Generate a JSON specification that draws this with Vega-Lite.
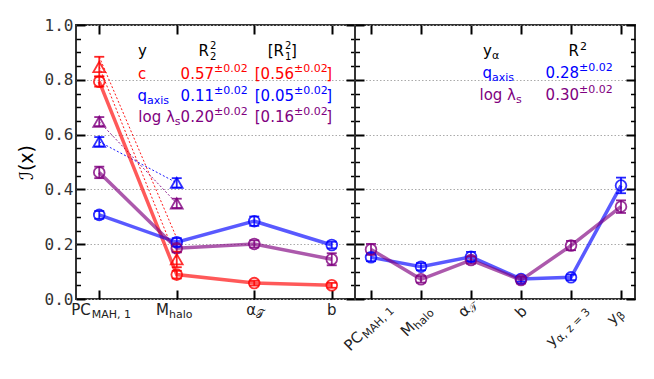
{
"$schema":"https://vega.github.io/schema/vega-lite/v6.json",
"padding":{"left":16,"top":16,"right":5,"bottom":5},
"config":{"font":"DejaVu Sans","view":{"stroke":"#333","strokeWidth":2},"text":{"font":"DejaVu Sans"}},
"datasets":{
"left":[
{"var":"PC","s":"c","m":"o","i":0,"v":0.793,"lo":0.775,"hi":0.812},
{"var":"Mhalo","s":"c","m":"o","i":1,"v":0.089,"lo":0.075,"hi":0.103},
{"var":"alpha","s":"c","m":"o","i":2,"v":0.058,"lo":0.049,"hi":0.067},
{"var":"b","s":"c","m":"o","i":3,"v":0.050,"lo":0.041,"hi":0.059},
{"var":"PC","s":"q","m":"o","i":0,"v":0.307,"lo":0.293,"hi":0.321},
{"var":"Mhalo","s":"q","m":"o","i":1,"v":0.207,"lo":0.192,"hi":0.222},
{"var":"alpha","s":"q","m":"o","i":2,"v":0.284,"lo":0.267,"hi":0.301},
{"var":"b","s":"q","m":"o","i":3,"v":0.197,"lo":0.185,"hi":0.209},
{"var":"PC","s":"l","m":"o","i":0,"v":0.462,"lo":0.441,"hi":0.483},
{"var":"Mhalo","s":"l","m":"o","i":1,"v":0.185,"lo":0.170,"hi":0.200},
{"var":"alpha","s":"l","m":"o","i":2,"v":0.201,"lo":0.188,"hi":0.214},
{"var":"b","s":"l","m":"o","i":3,"v":0.145,"lo":0.123,"hi":0.167},
{"var":"PC","s":"c","m":"t","i":0,"v":0.847,"lo":0.812,"hi":0.884},
{"var":"Mhalo","s":"c","m":"t","i":1,"v":0.145,"lo":0.116,"hi":0.173},
{"var":"PC","s":"q","m":"t","i":0,"v":0.574,"lo":0.557,"hi":0.591},
{"var":"Mhalo","s":"q","m":"t","i":1,"v":0.424,"lo":0.407,"hi":0.441},
{"var":"PC","s":"l","m":"t","i":0,"v":0.647,"lo":0.631,"hi":0.664},
{"var":"Mhalo","s":"l","m":"t","i":1,"v":0.349,"lo":0.332,"hi":0.366}
],
"right":[
{"var":"PC","s":"q","m":"o","i":0,"v":0.152,"lo":0.138,"hi":0.167},
{"var":"Mhalo","s":"q","m":"o","i":1,"v":0.118,"lo":0.105,"hi":0.131},
{"var":"alpha","s":"q","m":"o","i":2,"v":0.154,"lo":0.137,"hi":0.172},
{"var":"b","s":"q","m":"o","i":3,"v":0.073,"lo":0.063,"hi":0.083},
{"var":"y_alpha_z3","s":"q","m":"o","i":4,"v":0.079,"lo":0.069,"hi":0.089},
{"var":"y_beta","s":"q","m":"o","i":5,"v":0.414,"lo":0.386,"hi":0.443},
{"var":"PC","s":"l","m":"o","i":0,"v":0.181,"lo":0.161,"hi":0.201},
{"var":"Mhalo","s":"l","m":"o","i":1,"v":0.072,"lo":0.060,"hi":0.084},
{"var":"alpha","s":"l","m":"o","i":2,"v":0.142,"lo":0.129,"hi":0.155},
{"var":"b","s":"l","m":"o","i":3,"v":0.069,"lo":0.057,"hi":0.081},
{"var":"y_alpha_z3","s":"l","m":"o","i":4,"v":0.195,"lo":0.178,"hi":0.212},
{"var":"y_beta","s":"l","m":"o","i":5,"v":0.337,"lo":0.314,"hi":0.360}
]
},
"spacing":0,
"bounds":"flush",
"hconcat":[
{
"width":279,"height":274,
"data":{"name":"left"},
"resolve":{"axis":{"x":"independent","y":"independent"}},
"layer":[
{"transform":[{"filter":"datum.m=='t'"}],"mark":{"type":"line","strokeWidth":1,"strokeDash":[2,2],"opacity":0.9},
"encoding":{
"x":{"field":"i","type":"quantitative","scale":{"domain":[-0.3,3.3],"nice":false,"zero":false},"axis":{"orient":"bottom","values":[0,1,2,3],"labels":false,"tickSize":-9,"tickWidth":2,"tickColor":"#000","domain":false,"grid":false,"title":null}},
"y":{"field":"v","type":"quantitative","scale":{"domain":[0,1],"nice":false,"zero":false},"axis":{"orient":"left","values":[0,0.2,0.4,0.6,0.8,1],"format":".1f","labelFont":"DejaVu Sans Mono","labelFontSize":16,"labelColor":"#333","labelPadding":12,"tickSize":-9,"tickWidth":2,"tickColor":"#000","domain":false,"grid":true,"gridDash":[1.5,2],"gridColor":"#aaa","gridWidth":1,"title":"ℐ(x)","titleFont":"DejaVu Sans","titleFontSize":19,"titleFontWeight":"normal","titleColor":"#000","titlePadding":8}},
"color":{"field":"s","type":"nominal","scale":{"domain":["c","q","l"],"range":["#ff0000","#0000ff","#800080"]},"legend":null}}},
{"data":{"values":[{"s":"c","i":0,"v":0.884},{"s":"c","i":1,"v":0.222}]},"mark":{"type":"line","strokeWidth":1,"strokeDash":[2,2],"opacity":0.9,"color":"#ff0000"},
"encoding":{"x":{"field":"i","type":"quantitative","axis":null},"y":{"field":"v","type":"quantitative","axis":null}}},
{"transform":[{"filter":"datum.m=='o'"}],"mark":{"type":"line","strokeWidth":3.5,"opacity":0.65},
"encoding":{
"x":{"field":"i","type":"quantitative","scale":{"domain":[-0.3,3.3],"nice":false,"zero":false},"axis":{"orient":"top","values":[0,1,2,3],"labels":false,"tickSize":-9,"tickWidth":2,"tickColor":"#000","domain":false,"grid":false,"title":null}},
"y":{"field":"v","type":"quantitative","scale":{"domain":[0,1],"nice":false,"zero":false},"axis":{"orient":"right","values":[0,0.2,0.4,0.6,0.8,1],"labels":false,"tickSize":-9,"tickWidth":2,"tickColor":"#000","domain":false,"grid":false,"title":null}},
"color":{"field":"s","type":"nominal","legend":null}}},
{"mark":{"type":"rule","strokeWidth":1.8,"opacity":0.85},
"encoding":{
"x":{"field":"i","type":"quantitative","axis":null},
"y":{"field":"lo","type":"quantitative","scale":{"domain":[0,1],"nice":false,"zero":false},"axis":{"orient":"left","values":[0.05,0.1,0.15,0.25,0.3,0.35,0.45,0.5,0.55,0.65,0.7,0.75,0.85,0.9,0.95],"labels":false,"tickSize":-4.5,"tickWidth":1.5,"tickColor":"#000","domain":false,"grid":false,"title":null}},
"y2":{"field":"hi"},
"color":{"field":"s","type":"nominal","legend":null}}},
{"mark":{"type":"tick","orient":"horizontal","size":10,"thickness":1.8,"opacity":0.85},
"encoding":{
"x":{"field":"i","type":"quantitative","axis":null},
"y":{"field":"lo","type":"quantitative","axis":{"orient":"right","values":[0.05,0.1,0.15,0.25,0.3,0.35,0.45,0.5,0.55,0.65,0.7,0.75,0.85,0.9,0.95],"labels":false,"tickSize":-4.5,"tickWidth":1.5,"tickColor":"#000","domain":false,"grid":false,"title":null}},
"color":{"field":"s","type":"nominal","legend":null}}},
{"mark":{"type":"tick","orient":"horizontal","size":10,"thickness":1.8,"opacity":0.85},
"encoding":{
"x":{"field":"i","type":"quantitative","axis":null},
"y":{"field":"hi","type":"quantitative","axis":null},
"color":{"field":"s","type":"nominal","legend":null}}},
{"transform":[{"filter":"datum.m=='o'"}],"mark":{"type":"point","shape":"circle","filled":false,"size":115,"strokeWidth":1.8,"opacity":0.8},
"encoding":{"x":{"field":"i","type":"quantitative","axis":null},"y":{"field":"v","type":"quantitative","axis":null},"color":{"field":"s","type":"nominal","legend":null}}},
{"transform":[{"filter":"datum.m=='t'"}],"mark":{"type":"point","shape":"triangle-up","filled":false,"size":140,"strokeWidth":1.8,"opacity":0.8},
"encoding":{"x":{"field":"i","type":"quantitative","axis":null},"y":{"field":"v","type":"quantitative","axis":null},"color":{"field":"s","type":"nominal","legend":null}}},

{"data":{"values":[{"t":"y"}]},"mark":{"type":"text","align":"left","baseline":"alphabetic","fontSize":15,"color":"#000"},"encoding":{"x":{"datum":0.5,"axis":null},"y":{"datum":0.887,"axis":null},"text":{"field":"t"}}},
{"data":{"values":[{"t":"R"}]},"mark":{"type":"text","align":"right","baseline":"alphabetic","fontSize":15,"color":"#000"},"encoding":{"x":{"datum":1.416,"axis":null},"y":{"datum":0.887,"axis":null},"text":{"field":"t"}}},
{"data":{"values":[{"t":"2"}]},"mark":{"type":"text","align":"left","baseline":"alphabetic","fontSize":10,"dy":-7,"dx":1,"color":"#000"},"encoding":{"x":{"datum":1.416,"axis":null},"y":{"datum":0.887,"axis":null},"text":{"field":"t"}}},
{"data":{"values":[{"t":"2"}]},"mark":{"type":"text","align":"left","baseline":"alphabetic","fontSize":10,"dy":4,"dx":1,"color":"#000"},"encoding":{"x":{"datum":1.416,"axis":null},"y":{"datum":0.887,"axis":null},"text":{"field":"t"}}},
{"data":{"values":[{"t":"[R"}]},"mark":{"type":"text","align":"right","baseline":"alphabetic","fontSize":15,"color":"#000"},"encoding":{"x":{"datum":2.384,"axis":null},"y":{"datum":0.887,"axis":null},"text":{"field":"t"}}},
{"data":{"values":[{"t":"2"}]},"mark":{"type":"text","align":"left","baseline":"alphabetic","fontSize":10,"dy":-7,"dx":1,"color":"#000"},"encoding":{"x":{"datum":2.384,"axis":null},"y":{"datum":0.887,"axis":null},"text":{"field":"t"}}},
{"data":{"values":[{"t":"1"}]},"mark":{"type":"text","align":"left","baseline":"alphabetic","fontSize":10,"dy":4,"dx":1,"color":"#000"},"encoding":{"x":{"datum":2.384,"axis":null},"y":{"datum":0.887,"axis":null},"text":{"field":"t"}}},
{"data":{"values":[{"t":"]"}]},"mark":{"type":"text","align":"left","baseline":"alphabetic","fontSize":15,"color":"#000"},"encoding":{"x":{"datum":2.474,"axis":null},"y":{"datum":0.887,"axis":null},"text":{"field":"t"}}},

{"data":{"values":[{"t":"c"}]},"mark":{"type":"text","align":"left","baseline":"alphabetic","fontSize":15,"color":"#ff0000"},"encoding":{"x":{"datum":0.5,"axis":null},"y":{"datum":0.803,"axis":null},"text":{"field":"t"}}},
{"data":{"values":[{"t":"0.57"}]},"mark":{"type":"text","align":"right","baseline":"alphabetic","fontSize":15,"color":"#ff0000"},"encoding":{"x":{"datum":1.481,"axis":null},"y":{"datum":0.803,"axis":null},"text":{"field":"t"}}},
{"data":{"values":[{"t":"±0.02"}]},"mark":{"type":"text","align":"left","baseline":"alphabetic","fontSize":11,"dy":-7,"color":"#ff0000"},"encoding":{"x":{"datum":1.481,"axis":null},"y":{"datum":0.803,"axis":null},"text":{"field":"t"}}},
{"data":{"values":[{"t":"[0.56"}]},"mark":{"type":"text","align":"right","baseline":"alphabetic","fontSize":15,"color":"#ff0000"},"encoding":{"x":{"datum":2.513,"axis":null},"y":{"datum":0.803,"axis":null},"text":{"field":"t"}}},
{"data":{"values":[{"t":"±0.02"}]},"mark":{"type":"text","align":"left","baseline":"alphabetic","fontSize":11,"dy":-7,"color":"#ff0000"},"encoding":{"x":{"datum":2.513,"axis":null},"y":{"datum":0.803,"axis":null},"text":{"field":"t"}}},
{"data":{"values":[{"t":"]"}]},"mark":{"type":"text","align":"left","baseline":"alphabetic","fontSize":15,"color":"#ff0000"},"encoding":{"x":{"datum":2.93,"axis":null},"y":{"datum":0.803,"axis":null},"text":{"field":"t"}}},

{"data":{"values":[{"t":"q"}]},"mark":{"type":"text","align":"right","baseline":"alphabetic","fontSize":15,"color":"#0000ff"},"encoding":{"x":{"datum":0.616,"axis":null},"y":{"datum":0.723,"axis":null},"text":{"field":"t"}}},
{"data":{"values":[{"t":"axis"}]},"mark":{"type":"text","align":"left","baseline":"alphabetic","fontSize":11,"dy":3,"color":"#0000ff"},"encoding":{"x":{"datum":0.616,"axis":null},"y":{"datum":0.723,"axis":null},"text":{"field":"t"}}},
{"data":{"values":[{"t":"0.11"}]},"mark":{"type":"text","align":"right","baseline":"alphabetic","fontSize":15,"color":"#0000ff"},"encoding":{"x":{"datum":1.481,"axis":null},"y":{"datum":0.723,"axis":null},"text":{"field":"t"}}},
{"data":{"values":[{"t":"±0.02"}]},"mark":{"type":"text","align":"left","baseline":"alphabetic","fontSize":11,"dy":-7,"color":"#0000ff"},"encoding":{"x":{"datum":1.481,"axis":null},"y":{"datum":0.723,"axis":null},"text":{"field":"t"}}},
{"data":{"values":[{"t":"[0.05"}]},"mark":{"type":"text","align":"right","baseline":"alphabetic","fontSize":15,"color":"#0000ff"},"encoding":{"x":{"datum":2.513,"axis":null},"y":{"datum":0.723,"axis":null},"text":{"field":"t"}}},
{"data":{"values":[{"t":"±0.02"}]},"mark":{"type":"text","align":"left","baseline":"alphabetic","fontSize":11,"dy":-7,"color":"#0000ff"},"encoding":{"x":{"datum":2.513,"axis":null},"y":{"datum":0.723,"axis":null},"text":{"field":"t"}}},
{"data":{"values":[{"t":"]"}]},"mark":{"type":"text","align":"left","baseline":"alphabetic","fontSize":15,"color":"#0000ff"},"encoding":{"x":{"datum":2.93,"axis":null},"y":{"datum":0.723,"axis":null},"text":{"field":"t"}}},

{"data":{"values":[{"t":"log λ"}]},"mark":{"type":"text","align":"right","baseline":"alphabetic","fontSize":15,"color":"#800080"},"encoding":{"x":{"datum":0.975,"axis":null},"y":{"datum":0.646,"axis":null},"text":{"field":"t"}}},
{"data":{"values":[{"t":"s"}]},"mark":{"type":"text","align":"left","baseline":"alphabetic","fontSize":11,"dy":3,"color":"#800080"},"encoding":{"x":{"datum":0.975,"axis":null},"y":{"datum":0.646,"axis":null},"text":{"field":"t"}}},
{"data":{"values":[{"t":"0.20"}]},"mark":{"type":"text","align":"right","baseline":"alphabetic","fontSize":15,"color":"#800080"},"encoding":{"x":{"datum":1.481,"axis":null},"y":{"datum":0.646,"axis":null},"text":{"field":"t"}}},
{"data":{"values":[{"t":"±0.02"}]},"mark":{"type":"text","align":"left","baseline":"alphabetic","fontSize":11,"dy":-7,"color":"#800080"},"encoding":{"x":{"datum":1.481,"axis":null},"y":{"datum":0.646,"axis":null},"text":{"field":"t"}}},
{"data":{"values":[{"t":"[0.16"}]},"mark":{"type":"text","align":"right","baseline":"alphabetic","fontSize":15,"color":"#800080"},"encoding":{"x":{"datum":2.513,"axis":null},"y":{"datum":0.646,"axis":null},"text":{"field":"t"}}},
{"data":{"values":[{"t":"±0.02"}]},"mark":{"type":"text","align":"left","baseline":"alphabetic","fontSize":11,"dy":-7,"color":"#800080"},"encoding":{"x":{"datum":2.513,"axis":null},"y":{"datum":0.646,"axis":null},"text":{"field":"t"}}},
{"data":{"values":[{"t":"]"}]},"mark":{"type":"text","align":"left","baseline":"alphabetic","fontSize":15,"color":"#800080"},"encoding":{"x":{"datum":2.93,"axis":null},"y":{"datum":0.646,"axis":null},"text":{"field":"t"}}},

{"data":{"values":[{"t":"PC"}]},"mark":{"type":"text","align":"right","baseline":"alphabetic","fontSize":15,"color":"#222"},"encoding":{"x":{"datum":-0.11,"axis":null},"y":{"datum":-0.058,"axis":null},"text":{"field":"t"}}},
{"data":{"values":[{"t":"MAH, 1"}]},"mark":{"type":"text","align":"left","baseline":"alphabetic","fontSize":11,"dy":3,"dx":1,"color":"#222"},"encoding":{"x":{"datum":-0.11,"axis":null},"y":{"datum":-0.058,"axis":null},"text":{"field":"t"}}},
{"data":{"values":[{"t":"M"}]},"mark":{"type":"text","align":"right","baseline":"alphabetic","fontSize":15,"color":"#222"},"encoding":{"x":{"datum":0.9,"axis":null},"y":{"datum":-0.058,"axis":null},"text":{"field":"t"}}},
{"data":{"values":[{"t":"halo"}]},"mark":{"type":"text","align":"left","baseline":"alphabetic","fontSize":11,"dy":3,"color":"#222"},"encoding":{"x":{"datum":0.9,"axis":null},"y":{"datum":-0.058,"axis":null},"text":{"field":"t"}}},
{"data":{"values":[{"t":"α"}]},"mark":{"type":"text","align":"right","baseline":"alphabetic","fontSize":15,"color":"#222"},"encoding":{"x":{"datum":2.023,"axis":null},"y":{"datum":-0.058,"axis":null},"text":{"field":"t"}}},
{"data":{"values":[{"t":"𝒯"}]},"mark":{"type":"text","align":"left","baseline":"alphabetic","fontSize":11,"dy":3,"color":"#222"},"encoding":{"x":{"datum":2.023,"axis":null},"y":{"datum":-0.058,"axis":null},"text":{"field":"t"}}},
{"data":{"values":[{"t":"b"}]},"mark":{"type":"text","align":"center","baseline":"alphabetic","fontSize":15,"color":"#222"},"encoding":{"x":{"datum":3,"axis":null},"y":{"datum":-0.058,"axis":null},"text":{"field":"t"}}}
]
},
{
"width":280,"height":274,
"data":{"name":"right"},
"resolve":{"axis":{"x":"independent","y":"independent"}},
"layer":[
{"mark":{"type":"line","strokeWidth":3.5,"opacity":0.65},
"encoding":{
"x":{"field":"i","type":"quantitative","scale":{"domain":[-0.32,5.28],"nice":false,"zero":false},"axis":{"orient":"bottom","values":[0,1,2,3,4,5],"labels":false,"tickSize":-9,"tickWidth":2,"tickColor":"#000","domain":false,"grid":false,"title":null}},
"y":{"field":"v","type":"quantitative","scale":{"domain":[0,1],"nice":false,"zero":false},"axis":{"orient":"left","values":[0,0.2,0.4,0.6,0.8,1],"labels":false,"tickSize":-9,"tickWidth":2,"tickColor":"#000","domain":false,"grid":true,"gridDash":[1.5,2],"gridColor":"#aaa","gridWidth":1,"title":null}},
"color":{"field":"s","type":"nominal","scale":{"domain":["c","q","l"],"range":["#ff0000","#0000ff","#800080"]},"legend":null}}},
{"mark":{"type":"rule","strokeWidth":1.8,"opacity":0.85},
"encoding":{
"x":{"field":"i","type":"quantitative","axis":{"orient":"top","values":[0,1,2,3,4,5],"labels":false,"tickSize":-9,"tickWidth":2,"tickColor":"#000","domain":false,"grid":false,"title":null}},
"y":{"field":"lo","type":"quantitative","axis":{"orient":"right","values":[0,0.2,0.4,0.6,0.8,1],"labels":false,"tickSize":-9,"tickWidth":2,"tickColor":"#000","domain":false,"grid":false,"title":null}},
"y2":{"field":"hi"},
"color":{"field":"s","type":"nominal","legend":null}}},
{"mark":{"type":"tick","orient":"horizontal","size":10,"thickness":1.8,"opacity":0.85},
"encoding":{
"x":{"field":"i","type":"quantitative","axis":null},
"y":{"field":"lo","type":"quantitative","axis":{"orient":"left","values":[0.05,0.1,0.15,0.25,0.3,0.35,0.45,0.5,0.55,0.65,0.7,0.75,0.85,0.9,0.95],"labels":false,"tickSize":-4.5,"tickWidth":1.5,"tickColor":"#000","domain":false,"grid":false,"title":null}},
"color":{"field":"s","type":"nominal","legend":null}}},
{"mark":{"type":"tick","orient":"horizontal","size":10,"thickness":1.8,"opacity":0.85},
"encoding":{
"x":{"field":"i","type":"quantitative","axis":null},
"y":{"field":"hi","type":"quantitative","axis":{"orient":"right","values":[0.05,0.1,0.15,0.25,0.3,0.35,0.45,0.5,0.55,0.65,0.7,0.75,0.85,0.9,0.95],"labels":false,"tickSize":-4.5,"tickWidth":1.5,"tickColor":"#000","domain":false,"grid":false,"title":null}},
"color":{"field":"s","type":"nominal","legend":null}}},
{"mark":{"type":"point","shape":"circle","filled":false,"size":115,"strokeWidth":1.8,"opacity":0.8},
"encoding":{"x":{"field":"i","type":"quantitative","axis":null},"y":{"field":"v","type":"quantitative","axis":null},"color":{"field":"s","type":"nominal","legend":null}}},

{"data":{"values":[{"t":"y"}]},"mark":{"type":"text","align":"right","baseline":"alphabetic","fontSize":15,"color":"#000"},"encoding":{"x":{"datum":2.42,"axis":null},"y":{"datum":0.887,"axis":null},"text":{"field":"t"}}},
{"data":{"values":[{"t":"α"}]},"mark":{"type":"text","align":"left","baseline":"alphabetic","fontSize":11,"dy":3,"color":"#000"},"encoding":{"x":{"datum":2.42,"axis":null},"y":{"datum":0.887,"axis":null},"text":{"field":"t"}}},
{"data":{"values":[{"t":"R"}]},"mark":{"type":"text","align":"right","baseline":"alphabetic","fontSize":15,"color":"#000"},"encoding":{"x":{"datum":4.16,"axis":null},"y":{"datum":0.887,"axis":null},"text":{"field":"t"}}},
{"data":{"values":[{"t":"2"}]},"mark":{"type":"text","align":"left","baseline":"alphabetic","fontSize":11,"dy":-6,"dx":1,"color":"#000"},"encoding":{"x":{"datum":4.16,"axis":null},"y":{"datum":0.887,"axis":null},"text":{"field":"t"}}},
{"data":{"values":[{"t":"q"}]},"mark":{"type":"text","align":"right","baseline":"alphabetic","fontSize":15,"color":"#0000ff"},"encoding":{"x":{"datum":2.42,"axis":null},"y":{"datum":0.807,"axis":null},"text":{"field":"t"}}},
{"data":{"values":[{"t":"axis"}]},"mark":{"type":"text","align":"left","baseline":"alphabetic","fontSize":11,"dy":3,"color":"#0000ff"},"encoding":{"x":{"datum":2.42,"axis":null},"y":{"datum":0.807,"axis":null},"text":{"field":"t"}}},
{"data":{"values":[{"t":"0.28"}]},"mark":{"type":"text","align":"right","baseline":"alphabetic","fontSize":15,"color":"#0000ff"},"encoding":{"x":{"datum":4.16,"axis":null},"y":{"datum":0.807,"axis":null},"text":{"field":"t"}}},
{"data":{"values":[{"t":"±0.02"}]},"mark":{"type":"text","align":"left","baseline":"alphabetic","fontSize":11,"dy":-7,"color":"#0000ff"},"encoding":{"x":{"datum":4.16,"axis":null},"y":{"datum":0.807,"axis":null},"text":{"field":"t"}}},
{"data":{"values":[{"t":"log λ"}]},"mark":{"type":"text","align":"right","baseline":"alphabetic","fontSize":15,"color":"#800080"},"encoding":{"x":{"datum":2.9,"axis":null},"y":{"datum":0.726,"axis":null},"text":{"field":"t"}}},
{"data":{"values":[{"t":"s"}]},"mark":{"type":"text","align":"left","baseline":"alphabetic","fontSize":11,"dy":3,"color":"#800080"},"encoding":{"x":{"datum":2.9,"axis":null},"y":{"datum":0.726,"axis":null},"text":{"field":"t"}}},
{"data":{"values":[{"t":"0.30"}]},"mark":{"type":"text","align":"right","baseline":"alphabetic","fontSize":15,"color":"#800080"},"encoding":{"x":{"datum":4.16,"axis":null},"y":{"datum":0.726,"axis":null},"text":{"field":"t"}}},
{"data":{"values":[{"t":"±0.02"}]},"mark":{"type":"text","align":"left","baseline":"alphabetic","fontSize":11,"dy":-7,"color":"#800080"},"encoding":{"x":{"datum":4.16,"axis":null},"y":{"datum":0.726,"axis":null},"text":{"field":"t"}}},

{"data":{"values":[{"t":"PC"}]},"mark":{"type":"text","align":"right","baseline":"alphabetic","fontSize":15,"angle":315,"color":"#222"},"encoding":{"x":{"datum":-0.14,"axis":null},"y":{"datum":-0.142,"axis":null},"text":{"field":"t"}}},
{"data":{"values":[{"t":"MAH, 1"}]},"mark":{"type":"text","align":"left","baseline":"alphabetic","fontSize":11,"dy":3,"dx":1,"angle":315,"color":"#222"},"encoding":{"x":{"datum":-0.14,"axis":null},"y":{"datum":-0.142,"axis":null},"text":{"field":"t"}}},
{"data":{"values":[{"t":"M"}]},"mark":{"type":"text","align":"right","baseline":"alphabetic","fontSize":15,"angle":315,"color":"#222"},"encoding":{"x":{"datum":0.9,"axis":null},"y":{"datum":-0.106,"axis":null},"text":{"field":"t"}}},
{"data":{"values":[{"t":"halo"}]},"mark":{"type":"text","align":"left","baseline":"alphabetic","fontSize":11,"dy":3,"angle":315,"color":"#222"},"encoding":{"x":{"datum":0.9,"axis":null},"y":{"datum":-0.106,"axis":null},"text":{"field":"t"}}},
{"data":{"values":[{"t":"α"}]},"mark":{"type":"text","align":"right","baseline":"alphabetic","fontSize":15,"angle":315,"color":"#222"},"encoding":{"x":{"datum":2.0,"axis":null},"y":{"datum":-0.044,"axis":null},"text":{"field":"t"}}},
{"data":{"values":[{"t":"𝒯"}]},"mark":{"type":"text","align":"left","baseline":"alphabetic","fontSize":11,"dy":3,"angle":315,"color":"#222"},"encoding":{"x":{"datum":2.0,"axis":null},"y":{"datum":-0.044,"axis":null},"text":{"field":"t"}}},
{"data":{"values":[{"t":"b"}]},"mark":{"type":"text","align":"center","baseline":"middle","fontSize":15,"angle":315,"color":"#222"},"encoding":{"x":{"datum":3.0,"axis":null},"y":{"datum":-0.047,"axis":null},"text":{"field":"t"}}},
{"data":{"values":[{"t":"y"}]},"mark":{"type":"text","align":"right","baseline":"alphabetic","fontSize":15,"angle":315,"color":"#222"},"encoding":{"x":{"datum":3.74,"axis":null},"y":{"datum":-0.153,"axis":null},"text":{"field":"t"}}},
{"data":{"values":[{"t":"α, z = 3"}]},"mark":{"type":"text","align":"left","baseline":"alphabetic","fontSize":11,"dy":3,"angle":315,"color":"#222"},"encoding":{"x":{"datum":3.74,"axis":null},"y":{"datum":-0.153,"axis":null},"text":{"field":"t"}}},
{"data":{"values":[{"t":"y"}]},"mark":{"type":"text","align":"right","baseline":"alphabetic","fontSize":15,"angle":315,"color":"#222"},"encoding":{"x":{"datum":4.96,"axis":null},"y":{"datum":-0.073,"axis":null},"text":{"field":"t"}}},
{"data":{"values":[{"t":"β"}]},"mark":{"type":"text","align":"left","baseline":"alphabetic","fontSize":11,"dy":3,"angle":315,"color":"#222"},"encoding":{"x":{"datum":4.96,"axis":null},"y":{"datum":-0.073,"axis":null},"text":{"field":"t"}}}
]
}
]
}
